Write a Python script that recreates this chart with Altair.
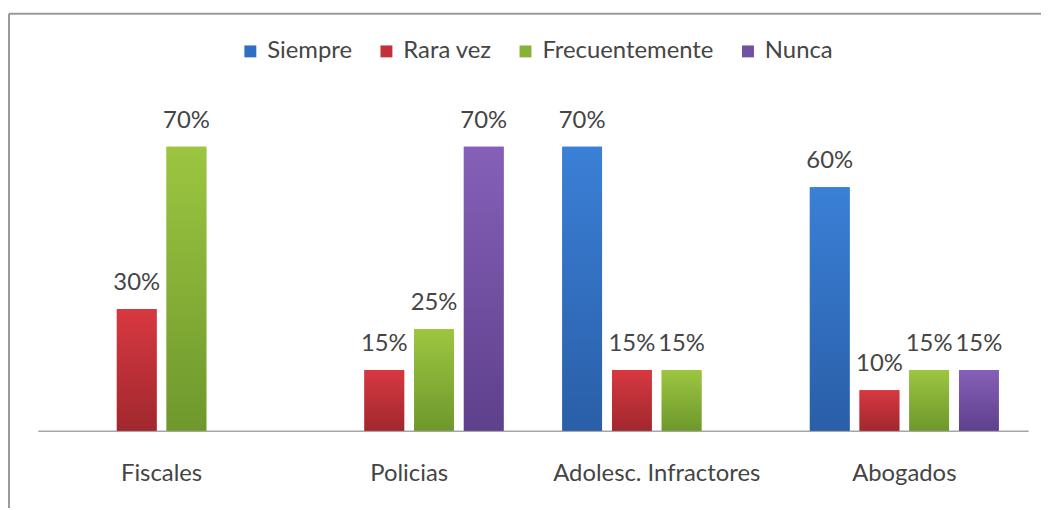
import altair as alt
import pandas as pd

categories = ["Fiscales", "Policias", "Adolesc. Infractores", "Abogados"]
series = ["Siempre", "Rara vez", "Frecuentemente", "Nunca"]
siempre = [None, None, 70, 60]
rara_vez = [30, 15, 15, 10]
frecuentemente = [70, 25, 15, 15]
nunca = [None, 70, None, 15]

colors = ["#2f6fc2", "#c2303a", "#88b237", "#7250a2"]
top_colors = ["#3a80d6", "#d83840", "#9cc640", "#8660b8"]
bottom_colors = ["#2a5ea8", "#a0282e", "#6e982c", "#5e408c"]

rows = []
for s, vals in zip(series, [siempre, rara_vez, frecuentemente, nunca]):
    for c, v in zip(categories, vals):
        if v is not None:
            rows.append({"cat": c, "serie": s, "val": v, "label": f"{v}%"})
df = pd.DataFrame(rows)

FONT = "Lato"
TXT = "#454545"

x = alt.X("cat:N", sort=categories,
          scale=alt.Scale(paddingInner=0, paddingOuter=0),
          axis=alt.Axis(title=None, labelAngle=0, ticks=False, tickSize=0,
                        domainColor="#a6a6a6", domainWidth=1.5, grid=False,
                        labelFont=FONT, labelFontSize=24, labelColor=TXT, labelLimit=0,
                        labelPadding=50, labelBaseline="alphabetic"))
xo = alt.XOffset("serie:N", sort=series,
                 scale=alt.Scale(domain=series, paddingInner=0.2, paddingOuter=0.59))
y = alt.Y("val:Q", scale=alt.Scale(domain=[0, 80]), axis=None)

base = alt.Chart(df).mark_bar().encode(
    x=x, xOffset=xo, y=y,
    color=alt.Color("serie:N", sort=series,
                    scale=alt.Scale(domain=series, range=colors),
                    legend=alt.Legend(title=None, orient="none", legendX=202, legendY=-67,
                                      direction="horizontal", symbolType="square",
                                      symbolSize=144, symbolStrokeWidth=0,
                                      labelFont=FONT, labelFontSize=24, labelColor=TXT,
                                      labelLimit=0, labelOffset=5, columnPadding=22)))

grad_layers = []
for s, t, b in zip(series, top_colors, bottom_colors):
    grad_layers.append(
        alt.Chart(df).transform_filter(alt.datum.serie == s).mark_bar(
            color=alt.LinearGradient(
                gradient="linear",
                stops=[alt.GradientStop(color=t, offset=0), alt.GradientStop(color=b, offset=1)],
                x1=0, x2=0, y1=0, y2=1)
        ).encode(x=x, xOffset=xo, y=y)
    )

text = alt.Chart(df).mark_text(baseline="alphabetic", dy=-19, font=FONT, fontSize=24, color=TXT).encode(
    x=x, xOffset=xo, y=y, text="label:N")

one = pd.DataFrame({"a": [0]})
frame_top = alt.Chart(one).mark_rule(color="#9a9a9a", strokeWidth=2).encode(
    x=alt.value(-29), x2=alt.value(1020), y=alt.value(-93))
frame_left = alt.Chart(one).mark_rule(color="#9a9a9a", strokeWidth=2).encode(
    x=alt.value(-29), y=alt.value(-93), y2=alt.value(410))

chart = alt.layer(frame_top, frame_left, base, *grad_layers, text).properties(
    width=997, height=327, autosize="none",
    padding={"left": 30, "top": 97, "right": 13, "bottom": 76},
).configure_view(stroke=None)

chart.save("out.html", embed_options={"renderer": "svg", "actions": False})
